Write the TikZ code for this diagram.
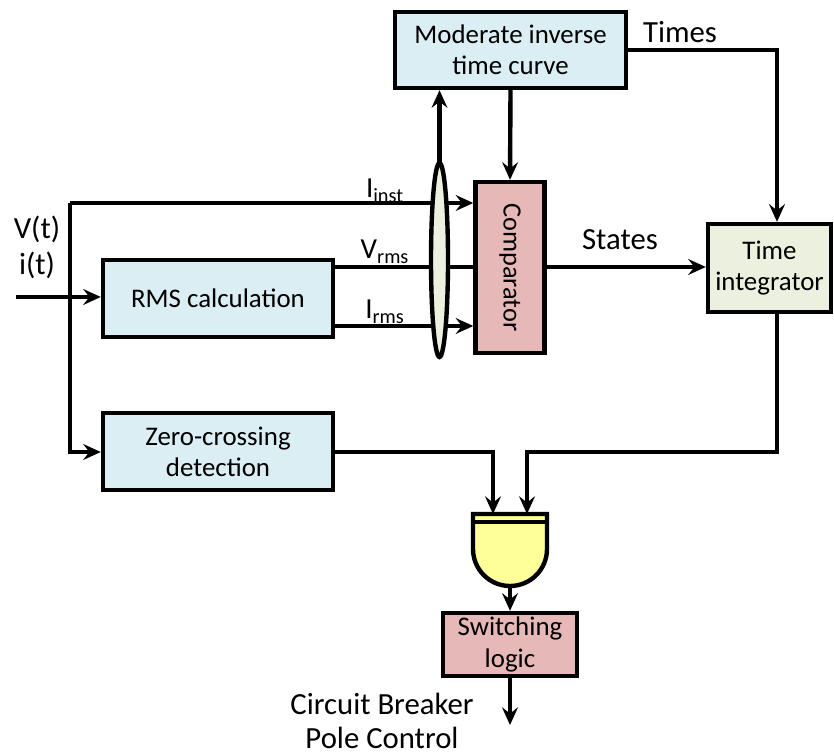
\documentclass[tikz,border=0pt]{standalone}
\usepackage{fontspec}
\setmainfont{Carlito}
\usetikzlibrary{arrows.meta}
\definecolor{Calc}{RGB}{219,238,244}
\definecolor{Comp}{RGB}{230,185,184}
\definecolor{Integ}{RGB}{235,241,222}
\definecolor{Gate}{RGB}{255,255,153}
\tikzset{
    blk/.style={draw, line width=2.5pt, align=center, inner sep=0pt, font=\fontsize{15.3}{17.5}\selectfont},
    wire/.style={line width=2.5pt},
    arr/.style={line width=2.5pt, -{Stealth[length=10pt,width=9pt,inset=3.5pt]}},
    lbl/.style={font=\fontsize{17.5}{20}\selectfont, inner sep=0pt},
    sublbl/.style={font=\fontsize{16.5}{19}\selectfont, inner sep=0pt, anchor=base}
}
\begin{document}
\begin{tikzpicture}[x=0.02cm, y=-0.02cm]
        % Fix the size of the picture
        \useasboundingbox (0,0) rectangle (834,756);

        % Blocks
        \node[blk, fill=Calc, minimum width=4.62cm, minimum height=1.52cm] (curve) at (510.5,50) {Moderate inverse\\time curve};
        \node[blk, fill=Comp, minimum width=1.38cm, minimum height=3.42cm] (comp) at (510,267.5) {};
        \node[font=\fontsize{15}{17}\selectfont, rotate=-90] at (comp.center) {Comparator};
        \node[blk, fill=Integ, minimum width=2.46cm, minimum height=1.76cm] (integ) at (769.5,268) {Time\\integrator};
        \node[blk, fill=Calc, minimum width=4.6cm, minimum height=1.54cm] (rms) at (218,298.5) {RMS calculation};
        \node[blk, fill=Calc, minimum width=4.6cm, minimum height=1.54cm] (zero) at (218,451.5) {Zero-crossing\\detection};
        \node[blk, fill=Comp, minimum width=2.68cm, minimum height=1.26cm, font=\fontsize{15.3}{18.5}\selectfont] (switch) at (510,644.5) {Switching\\logic};

        % Gate
        \coordinate (gate) at (510,514);
        \draw[wire, fill=Gate] (473,514) -- (547,514) -- (547,549) arc[start angle=0, end angle=180, radius=37] -- cycle;
        \draw[wire] (473,522) -- (547,522);
        \coordinate (gateout) at (510,586);

        % Input and its branches
        \coordinate (in) at (16,297);
        \coordinate (top) at (70,203);
        \coordinate (low) at (70,452);
        \draw[arr] (in) -- (rms.west |- in);
        \draw[arr] (top) -- (top -| comp.west);
        \draw[arr] (top) -- (low) -- (low -| zero.west);
        \node[lbl, anchor=base] at (37,239) {V(t)};
        \node[lbl, anchor=base] at (37,275) {i(t)};

        % Signals into the comparator
        \draw[wire] (rms.east |- 0,267) -- (comp.west |- 0,267);
        \draw[arr] (rms.east |- 0,326) -- (comp.west |- 0,326);
        \node[sublbl] at (385,198) {I\textsubscript{inst}};
        \node[sublbl] at (385,259) {V\textsubscript{rms}};
        \node[sublbl] at (385,319) {I\textsubscript{rms}};

        % Grouping ellipse
        \draw[wire, fill=Integ] (439.5,260) ellipse [x radius=8.5, y radius=97];
        \coordinate (group) at (439.5,163);
        \draw[arr] (group) -- (group |- curve.south);
        \draw[arr] (curve.south) -- (comp.north);

        % Times and states
        \draw[arr] (curve.east) -| (integ.north -| 777,0);
        \node[lbl, anchor=base] at (680,43) {Times};
        \draw[arr] (comp.east |- 0,267) -- (integ.west |- 0,267);
        \node[lbl, anchor=base] at (620,250) {States};

        % Into the gate
        \draw[arr] (zero.east |- 0,452) -| (493,514);
        \draw[arr] (integ.south -| 777,0) |- (527,452) -- (527,514);
        \draw[arr] (gateout) -- (switch.north);
        \coordinate (out) at (510,725);
        \draw[arr] (switch.south) -- (out);
        \node[lbl, anchor=base] at (382,714) {Circuit Breaker};
        \node[lbl, anchor=base] at (382,748) {Pole Control};
\end{tikzpicture}
\end{document}
